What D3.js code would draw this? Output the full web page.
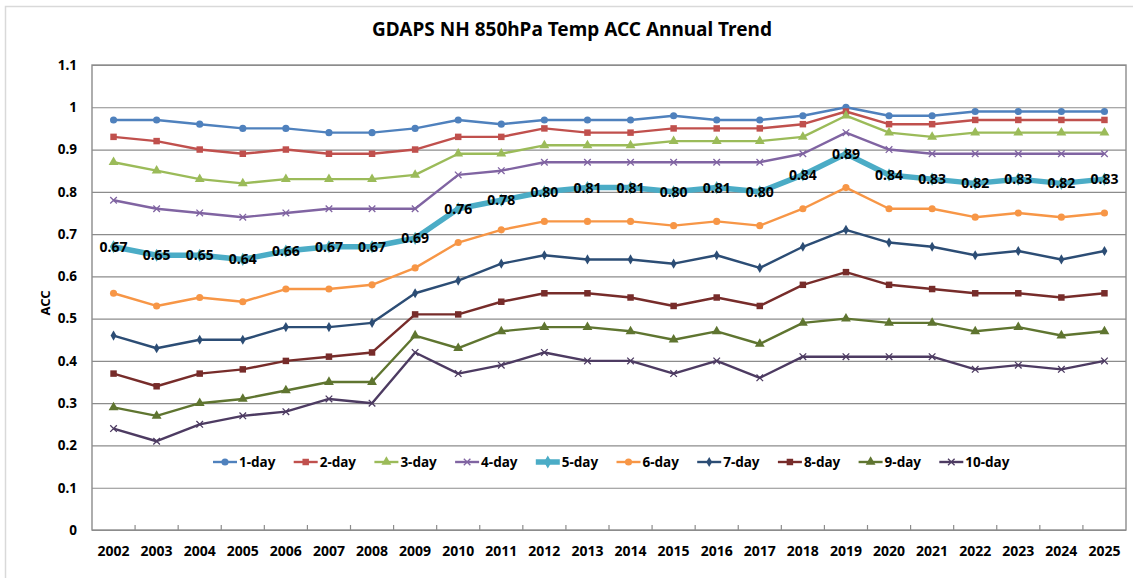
<!DOCTYPE html>
<html>
<head>
<meta charset="utf-8">
<script src="https://cdn.jsdelivr.net/npm/d3@7"></script>
<style>
	body { margin: 0; background: #fff; }
	text { font-family: "Noto Sans", "DejaVu Sans", sans-serif; font-weight: bold; fill: #000; }
</style>
</head>
<body>
<div id="chart"></div>
<script>
// data
const years = ["2002", "2003", "2004", "2005", "2006", "2007", "2008", "2009", "2010", "2011", "2012", "2013",
	"2014", "2015", "2016", "2017", "2018", "2019", "2020", "2021", "2022", "2023", "2024", "2025"];
const seriesNames = ["1-day", "2-day", "3-day", "4-day", "5-day", "6-day", "7-day", "8-day", "9-day", "10-day"];
const day1  = [0.97, 0.97, 0.96, 0.95, 0.95, 0.94, 0.94, 0.95, 0.97, 0.96, 0.97, 0.97, 0.97, 0.98, 0.97, 0.97, 0.98, 1.00, 0.98, 0.98, 0.99, 0.99, 0.99, 0.99];
const day2  = [0.93, 0.92, 0.90, 0.89, 0.90, 0.89, 0.89, 0.90, 0.93, 0.93, 0.95, 0.94, 0.94, 0.95, 0.95, 0.95, 0.96, 0.99, 0.96, 0.96, 0.97, 0.97, 0.97, 0.97];
const day3  = [0.87, 0.85, 0.83, 0.82, 0.83, 0.83, 0.83, 0.84, 0.89, 0.89, 0.91, 0.91, 0.91, 0.92, 0.92, 0.92, 0.93, 0.98, 0.94, 0.93, 0.94, 0.94, 0.94, 0.94];
const day4  = [0.78, 0.76, 0.75, 0.74, 0.75, 0.76, 0.76, 0.76, 0.84, 0.85, 0.87, 0.87, 0.87, 0.87, 0.87, 0.87, 0.89, 0.94, 0.90, 0.89, 0.89, 0.89, 0.89, 0.89];
const day5  = [0.67, 0.65, 0.65, 0.64, 0.66, 0.67, 0.67, 0.69, 0.76, 0.78, 0.80, 0.81, 0.81, 0.80, 0.81, 0.80, 0.84, 0.89, 0.84, 0.83, 0.82, 0.83, 0.82, 0.83];
const day6  = [0.56, 0.53, 0.55, 0.54, 0.57, 0.57, 0.58, 0.62, 0.68, 0.71, 0.73, 0.73, 0.73, 0.72, 0.73, 0.72, 0.76, 0.81, 0.76, 0.76, 0.74, 0.75, 0.74, 0.75];
const day7  = [0.46, 0.43, 0.45, 0.45, 0.48, 0.48, 0.49, 0.56, 0.59, 0.63, 0.65, 0.64, 0.64, 0.63, 0.65, 0.62, 0.67, 0.71, 0.68, 0.67, 0.65, 0.66, 0.64, 0.66];
const day8  = [0.37, 0.34, 0.37, 0.38, 0.40, 0.41, 0.42, 0.51, 0.51, 0.54, 0.56, 0.56, 0.55, 0.53, 0.55, 0.53, 0.58, 0.61, 0.58, 0.57, 0.56, 0.56, 0.55, 0.56];
const day9  = [0.29, 0.27, 0.30, 0.31, 0.33, 0.35, 0.35, 0.46, 0.43, 0.47, 0.48, 0.48, 0.47, 0.45, 0.47, 0.44, 0.49, 0.50, 0.49, 0.49, 0.47, 0.48, 0.46, 0.47];
const day10 = [0.24, 0.21, 0.25, 0.27, 0.28, 0.31, 0.30, 0.42, 0.37, 0.39, 0.42, 0.40, 0.40, 0.37, 0.40, 0.36, 0.41, 0.41, 0.41, 0.41, 0.38, 0.39, 0.38, 0.40];
const yTicks = [0, 0.1, 0.2, 0.3, 0.4, 0.5, 0.6, 0.7, 0.8, 0.9, 1.0, 1.1];
const yTickLabels = ["0", "0.1", "0.2", "0.3", "0.4", "0.5", "0.6", "0.7", "0.8", "0.9", "1", "1.1"];

const allValues = [day1, day2, day3, day4, day5, day6, day7, day8, day9, day10];

// styles per series
const colors  = ["#4F81BD", "#C0504D", "#9BBB59", "#8064A2", "#4BACC6", "#F79646", "#2C4D75", "#772C2A", "#5F7530", "#4D3B62"];
const symbols = [d3.symbolCircle, d3.symbolSquare, d3.symbolTriangle, d3.symbolTimes, d3.symbolDiamond,
	d3.symbolCircle, d3.symbolDiamond, d3.symbolSquare, d3.symbolTriangle, d3.symbolTimes];
const symSize = [40, 42, 42, 30, 50, 40, 30, 42, 42, 30];
const widths  = [2.4, 2.4, 2.4, 2.4, 5.5, 2.4, 2.4, 2.4, 2.4, 2.4];

const width  = 1133
	, height = 578
	, plot   = { left: 92, top: 65, right: 1126, bottom: 530 };

const svg = d3.select("#chart")
	.append("svg")
		.attr("width", width)
		.attr("height", height);

// outer chart frame
svg.append("rect")
	.attr("x", 5.5).attr("y", 6.5)
	.attr("width", width + 10).attr("height", height + 10)
	.attr("fill", "#fff")
	.attr("stroke", "#d9d9d9")
	.attr("stroke-width", 1.5);

// scales
const x = d3.scaleBand()
	.domain(years)
	.range([plot.left, plot.right]);
const xc = d => x(d) + x.bandwidth() / 2;
const y = d3.scaleLinear()
	.domain([0, 1.1])
	.range([plot.bottom, plot.top]);

// gridlines and y labels
svg.append("g")
	.attr("transform", "translate(" + plot.left + ",0)")
	.call(d3.axisLeft(y)
		.tickValues(yTicks)
		.tickSize(-(plot.right - plot.left))
		.tickPadding(15)
		.tickFormat((d, i) => yTickLabels[i]))
	.call(g => g.select(".domain").remove())
	.call(g => g.selectAll(".tick line").attr("stroke", "#8c8c8c").attr("stroke-width", 1.2))
	.call(g => g.selectAll(".tick text")
		.attr("font-size", 13.5)
		.attr("font-family", "Noto Sans, sans-serif")
		.attr("font-weight", "bold"));

// plot border
svg.append("rect")
	.attr("x", plot.left).attr("y", plot.top)
	.attr("width", plot.right - plot.left).attr("height", plot.bottom - plot.top)
	.attr("fill", "none")
	.attr("stroke", "#8c8c8c")
	.attr("stroke-width", 1.4);

// x axis: ticks at band edges, labels centered
svg.append("g")
	.selectAll("line")
	.data(years.slice(1))
	.join("line")
		.attr("x1", d => x(d)).attr("x2", d => x(d))
		.attr("y1", plot.bottom).attr("y2", plot.bottom - 5)
		.attr("stroke", "#8c8c8c")
		.attr("stroke-width", 1.2);
svg.append("g")
	.selectAll("text")
	.data(years)
	.join("text")
		.attr("x", xc)
		.attr("y", 556)
		.attr("text-anchor", "middle")
		.attr("font-size", 14)
		.text(d => d);

// title and y title
svg.append("text")
	.attr("x", 572).attr("y", 36)
	.attr("text-anchor", "middle")
	.attr("font-size", 19)
	.text("GDAPS NH 850hPa Temp ACC Annual Trend");
svg.append("text")
	.attr("transform", "translate(50,303) rotate(-90)")
	.attr("text-anchor", "middle")
	.attr("font-size", 13)
	.text("ACC");

// lines
const line = d3.line()
	.x((d, i) => xc(years[i]))
	.y(d => y(d));

seriesNames.forEach((name, s) => {
	const g = svg.append("g");
	g.append("path")
		.datum(allValues[s])
		.attr("d", line)
		.attr("fill", "none")
		.attr("stroke", colors[s])
		.attr("stroke-width", widths[s])
		.attr("stroke-linejoin", "round");
	const isX = symbols[s] === d3.symbolTimes;
	g.selectAll("path.mark")
		.data(allValues[s])
		.join("path")
			.attr("class", "mark")
			.attr("transform", (d, i) => "translate(" + xc(years[i]) + "," + y(d) + ")")
			.attr("d", d3.symbol().type(symbols[s]).size(symSize[s]))
			.attr("fill", isX ? "none" : colors[s])
			.attr("stroke", colors[s])
			.attr("stroke-width", isX ? 1.3 : 0);
});

// 5-day data labels
svg.append("g")
	.selectAll("text")
	.data(day5)
	.join("text")
		.attr("x", (d, i) => xc(years[i]))
		.attr("y", d => y(d))
		.attr("dy", "0.36em")
		.attr("text-anchor", "middle")
		.attr("font-size", 14)
		.text(d => d.toFixed(2));

// legend
const legend = svg.append("g")
	.attr("transform", "translate(213,462)");
seriesNames.forEach((name, s) => {
	const item = legend.append("g")
		.attr("transform", "translate(" + (s * 80.7) + ",0)");
	item.append("line")
		.attr("x1", 0).attr("x2", 24)
		.attr("stroke", colors[s])
		.attr("stroke-width", widths[s]);
	const isX = symbols[s] === d3.symbolTimes;
	item.append("path")
		.attr("transform", "translate(12,0)")
		.attr("d", d3.symbol().type(symbols[s]).size(symSize[s]))
		.attr("fill", isX ? "none" : colors[s])
		.attr("stroke", colors[s])
		.attr("stroke-width", isX ? 1.3 : 0);
	item.append("text")
		.attr("x", 26)
		.attr("dy", "0.36em")
		.attr("font-size", 13.5)
		.text(name);
});
</script>
</body>
</html>
